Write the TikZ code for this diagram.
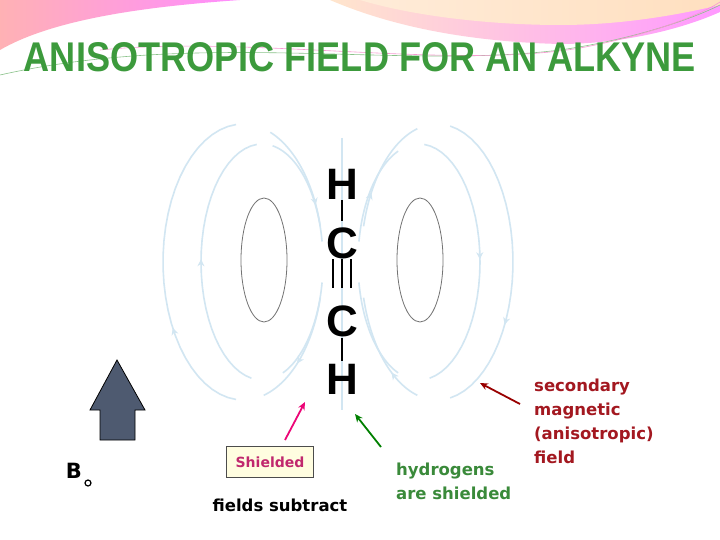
\documentclass[tikz,border=0pt]{standalone}
\usepackage{fontspec}
\setmainfont{Liberation Sans}
\newfontfamily\dv{DejaVu Sans}
\usetikzlibrary{arrows.meta,decorations.markings}
\definecolor{ttl}{HTML}{3C9A3C}
\definecolor{fl}{HTML}{D2E6F2}
\definecolor{slate}{HTML}{4E5A70}
\definecolor{grn}{HTML}{3A8A3A}
\definecolor{dred}{HTML}{A31820}
\definecolor{mag}{HTML}{C0286E}
\tikzset{
  loop/.style={draw=fl,line width=1.6pt},
  inner/.style={draw=gray!90!black,line width=0.8pt},
  atom/.style={font=\fontsize{44}{44}\selectfont\bfseries,inner sep=0pt},
  bond/.style={line width=2.6pt},
  lbl/.style={font=\dv\bfseries\fontsize{16.5}{24}\selectfont,align=left,inner sep=0pt},
  arr/.style={-{Stealth[length=8pt,width=7pt]},line width=1.8pt},
  farr/.style={postaction={decorate},decoration={markings,mark=at position #1 with {\arrow[fl,line width=1pt]{Stealth[length=7pt,width=7pt]}}}}
}
\newcommand\farc[7][]{\draw[loop,#1] plot[domain=#6:#7,samples=30,variable=\t] ({#2+#4*cos(\t)},{#3+#5*sin(\t)});}
\begin{document}
\begin{tikzpicture}[x=1pt,y=-1pt]
\useasboundingbox (0,0) rectangle (720,540);
\fill[white] (0,0) rectangle (720,540);
% header
\shade[left color=magenta!35!orange!45, right color=magenta!45] (0,0) -- (240,0) .. controls (170,5) and (60,15) .. (0,50) -- cycle;
\shade[left color=orange!20, right color=magenta!40] (330,0) .. controls (400,30) and (480,42) .. (560,44) .. controls (620,44) and (680,30) .. (720,12) -- (720,0) -- cycle;
\shade[left color=orange!15, right color=orange!25] (360,0) .. controls (420,18) and (500,25) .. (560,25) .. controls (630,25) and (690,12) .. (720,5) -- (720,0) -- cycle;
\draw[ttl!60,line width=0.6pt] (0,75) .. controls (200,30) and (400,70) .. (560,50) .. controls (630,40) and (690,20) .. (720,5);
\draw[magenta!40,line width=0.6pt] (100,50) .. controls (250,35) and (450,70) .. (580,48) .. controls (650,35) and (700,15) .. (720,2);
\node[text=ttl,inner sep=0pt] (title) at (360,57) {\resizebox{672pt}{29pt}{\bfseries ANISOTROPIC FIELD FOR AN ALKYNE}};
% field lines
\draw[fl,line width=1.2pt] (342,138) -- (342,410);
\farc[farr=0.5]{262}{262}{61}{118}{100}{265}
\farc{262}{262}{61}{118}{-80}{-10}
\farc{262}{262}{61}{118}{10}{70}
\farc[farr=0.5]{419}{262}{61}{118}{-85}{80}
\farc{419}{262}{61}{118}{110}{170}
\farc{419}{262}{61}{118}{190}{250}
\farc[farr=0.3]{243}{262}{80}{138}{95}{265}
\farc[farr=0.8]{243}{262}{80}{138}{-70}{-15}
\farc[farr=0.6]{243}{262}{80}{138}{15}{75}
\farc[farr=0.7]{437}{262}{76}{138}{-80}{80}
\farc[farr=0.3]{437}{262}{76}{138}{105}{165}
\farc[farr=0.3]{437}{262}{76}{138}{195}{255}
\draw[inner] (264,260) ellipse[x radius=23,y radius=62];
\draw[inner] (420,260) ellipse[x radius=23,y radius=62];
% molecule
\node[atom] (h1) at (342,184) {H};
\node[atom] (c1) at (342,243) {C};
\node[atom] (c2) at (342,321) {C};
\node[atom] (h2) at (342,379) {H};
\draw[bond] (342,200) -- (342,221);
\draw[bond] (333,259) -- (333,288);
\draw[bond] (342,259) -- (342,288);
\draw[bond] (351,259) -- (351,288);
\draw[bond] (342,338) -- (342,361);
% B arrow
\draw[fill=slate,line width=0.8pt] (100,440) -- (100,410) -- (90,410) -- (117,360) -- (145,410) -- (135,410) -- (135,440) -- cycle;
\node[font=\dv\bfseries\fontsize{21}{21}\selectfont,inner sep=0pt] (b) at (74,471) {B};
\draw[line width=1.2pt] (88,483) circle[radius=3];
% labels
\node[draw=black!70,fill=yellow!12,minimum width=87pt,minimum height=31pt,inner sep=0pt,font=\dv\bfseries\fontsize{14}{18}\selectfont,text=mag] (sh) at (270,462) {Shielded};
\node[lbl] (fs) at (280,505) {fields subtract};
\node[lbl,anchor=west,text=grn] (hy) at (396,481) {hydrogens\\are shielded};
\node[lbl,anchor=north west,text=dred] (sec) at (534,379) {secondary\\magnetic\\(anisotropic)\\field};
\coordinate (m1) at (285,440); \coordinate (m2) at (305,402);
\draw[arr,draw=magenta!80!red] (m1) -- (m2);
\coordinate (g1) at (381,447); \coordinate (g2) at (355,414);
\draw[arr,draw=green!50!black] (g1) -- (g2);
\coordinate (r1) at (520,404); \coordinate (r2) at (480,383);
\draw[arr,draw=red!60!black] (r1) -- (r2);
\end{tikzpicture}
\end{document}
